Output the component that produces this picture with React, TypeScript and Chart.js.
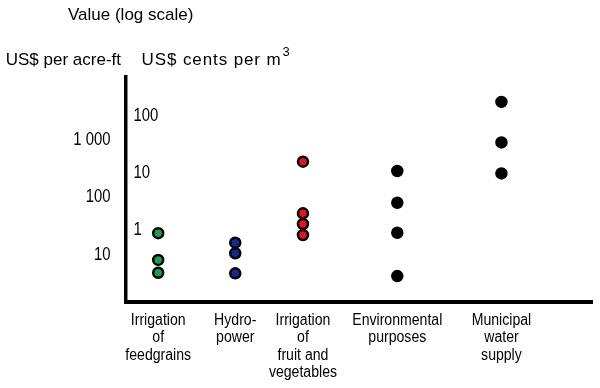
import React, { useEffect, useRef } from "react";
import { Chart, registerables } from "chart.js";

Chart.register(...registerables);

// ---- data ----
const categories: string[][] = [
  ["Irrigation", "of", "feedgrains"],
  ["Hydro-", "power"],
  ["Irrigation", "of", "fruit and", "vegetables"],
  ["Environmental", "purposes"],
  ["Municipal", "water", "supply"],
];
const categoryX = [7, 23.5, 38, 58.2, 80.5];

// values in US$ per acre-ft
const feedgrains = [24, 8.2, 4.9];
const hydropower = [16.4, 10.7, 4.8];
const fruitVeg = [420, 53, 34.6, 22.3];
const environmental = [289, 81, 24.4, 4.3];
const municipal = [4600, 910, 263];

const dollarTicks = [10, 100, 1000];
const centTicks = [1, 10, 100];
const CENTS_FACTOR = 26.5; // $/acre-ft level at which the drawn cents scale reads 1
const Y_MIN = 1.52;
const Y_MAX = 12500;
const X_MIN = 0;
const X_MAX = 100;

const REGULAR = '"Liberation Sans", Arial, Helvetica, sans-serif';

const fmt = (v: number) => String(v).replace(/\B(?=(\d{3})+(?!\d))/g, " ");

function condensed(
  ctx: CanvasRenderingContext2D,
  text: string,
  x: number,
  y: number,
  align: CanvasTextAlign,
  sx: number
) {
  ctx.save();
  ctx.translate(x, y);
  ctx.scale(sx, 1);
  ctx.textAlign = align;
  ctx.fillText(text, 0, 0);
  ctx.restore();
}

// draws the header texts and the (condensed) tick labels of the scales
const labelPlugin = {
  id: "labels",
  afterDraw(chart: any) {
    const ctx = chart.ctx as CanvasRenderingContext2D;
    const area = chart.chartArea;
    const left = area.left;
    ctx.save();
    ctx.fillStyle = "#000";

    // headers
    ctx.textBaseline = "alphabetic";
    ctx.font = `17px ${REGULAR}`;
    ctx.textAlign = "left";
    ctx.fillText("Value (log scale)", 68, 19.5);
    ctx.textAlign = "right";
    ctx.fillText("US$ per acre-ft", left - 4.5, 65);
    ctx.textAlign = "left";
    const t = "US$ cents per m";
    const x0 = left + 16;
    (ctx as any).letterSpacing = "0.9px";
    ctx.fillText(t, x0, 65);
    const w = ctx.measureText(t).width;
    (ctx as any).letterSpacing = "0px";
    ctx.font = `13px ${REGULAR}`;
    ctx.fillText("3", x0 + w + 1, 56);

    // y ticks (US$ per acre-ft)
    ctx.textBaseline = "middle";
    ctx.font = `17.5px ${REGULAR}`;
    const ys = chart.scales.y;
    for (const tk of ys.ticks) {
      condensed(ctx, fmt(tk.value), left - 15, ys.getPixelForValue(tk.value), "right", 0.85);
    }
    // inner ticks (US$ cents per m3)
    const yc = chart.scales.yCents;
    for (const tk of yc.ticks) {
      condensed(ctx, fmt(tk.value), left + 8, yc.getPixelForValue(tk.value), "left", 0.85);
    }
    // x category labels
    ctx.font = `16px ${REGULAR}`;
    const xs = chart.scales.x;
    xs.ticks.forEach((tk: any, i: number) => {
      const px = xs.getPixelForValue(tk.value);
      const lines = categories[i] || [];
      lines.forEach((ln, j) => {
        condensed(ctx, ln, px, xs.top + 18.5 + j * 17.3, "center", 0.88);
      });
    });
    ctx.restore();
  },
};

function series(xv: number, values: number[], color: string) {
  return {
    data: values.map((v) => ({ x: xv, y: v })),
    backgroundColor: color,
    borderColor: "#000",
    borderWidth: 2.5,
    pointRadius: 5,
    pointHoverRadius: 5,
    showLine: false,
  };
}

export default function App() {
  const ref = useRef<HTMLCanvasElement | null>(null);

  useEffect(() => {
    document.body.style.margin = "0";
    const canvas = ref.current!;
    const chart = new Chart(canvas, {
      type: "scatter",
      data: {
        datasets: [
          series(categoryX[0], feedgrains, "#1f9a4e"),
          series(categoryX[1], hydropower, "#17298e"),
          series(categoryX[2], fruitVeg, "#e3141e"),
          series(categoryX[3], environmental, "#000000"),
          series(categoryX[4], municipal, "#000000"),
        ] as any,
      },
      options: {
        responsive: false,
        animation: false,
        devicePixelRatio: 1,
        layout: { padding: { top: 77, right: 6, bottom: 0, left: 0 } },
        plugins: {
          legend: { display: false },
          title: { display: false },
          tooltip: { enabled: false },
        },
        scales: {
          x: {
            type: "linear",
            position: "bottom",
            min: X_MIN,
            max: X_MAX,
            afterBuildTicks: (axis: any) => {
              axis.ticks = categoryX.map((v) => ({ value: v }));
            },
            afterFit: (axis: any) => {
              axis.height = 86;
            },
            ticks: { display: false },
            grid: { display: false, drawTicks: false },
            border: { display: true, color: "#000", width: 4 },
          },
          y: {
            type: "logarithmic",
            position: "left",
            weight: 1,
            min: Y_MIN,
            max: Y_MAX,
            afterBuildTicks: (axis: any) => {
              axis.ticks = dollarTicks.map((v) => ({ value: v }));
            },
            afterFit: (axis: any) => {
              axis.width = 125.5;
            },
            ticks: { display: false },
            grid: { display: false, drawTicks: false },
            border: { display: true, color: "#000", width: 3.5 },
          },
          yCents: {
            type: "logarithmic",
            position: "left",
            weight: 0,
            min: Y_MIN / CENTS_FACTOR,
            max: Y_MAX / CENTS_FACTOR,
            afterBuildTicks: (axis: any) => {
              axis.ticks = centTicks.map((v) => ({ value: v }));
            },
            afterFit: (axis: any) => {
              axis.width = 0;
            },
            ticks: { display: false },
            grid: { display: false, drawTicks: false },
            border: { display: false },
          },
        } as any,
      },
      plugins: [labelPlugin],
    });
    return () => chart.destroy();
  }, []);

  return (
    <div style={{ width: 600, height: 388, background: "#fff" }}>
      <canvas ref={ref} width={600} height={388} />
    </div>
  );
}
